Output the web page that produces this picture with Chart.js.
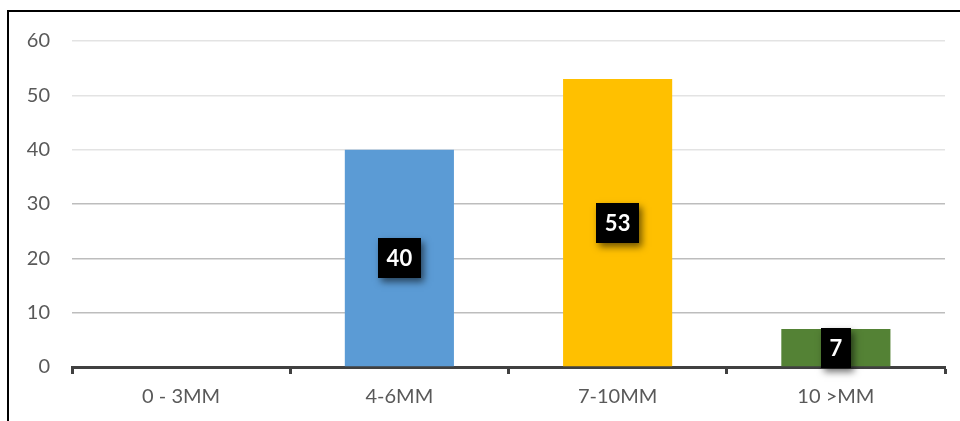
<!DOCTYPE html>
<html>
<head>
<meta charset="utf-8">
<script src="https://cdn.jsdelivr.net/npm/chart.js@4"></script>
<style>
  html, body { margin: 0; padding: 0; background: #ffffff; }
  #wrap { width: 960px; height: 421px; position: relative; }
</style>
</head>
<body>
<div id="wrap"><canvas id="c" width="960" height="421"></canvas></div>
<script>
// Size classes and counts per class
const categories = ['0 - 3MM', '4-6MM', '7-10MM', '10 >MM'];
const counts = [0, 40, 53, 7];
const barColors = ['#5b9bd5', '#5b9bd5', '#ffc000', '#548235'];
const yTicks = [0, 10, 20, 30, 40, 50, 60];

const FONT = 'Lato, "Open Sans", sans-serif';

// Thin black frame along the top and left edges of the canvas
const framePlugin = {
  id: 'frame',
  beforeDraw(chart) {
    const ctx = chart.ctx;
    ctx.save();
    ctx.fillStyle = '#ffffff';
    ctx.fillRect(0, 0, chart.width, chart.height);
    ctx.strokeStyle = '#000000';
    ctx.lineWidth = 2;
    ctx.beginPath();
    ctx.moveTo(8, chart.height);
    ctx.lineTo(8, 11);
    ctx.lineTo(chart.width, 11);
    ctx.stroke();
    ctx.restore();
  }
};

// Black value boxes with white bold numbers, centred inside each bar
const valueBoxPlugin = {
  id: 'valueBoxes',
  afterDatasetsDraw(chart) {
    const ctx = chart.ctx;
    const meta = chart.getDatasetMeta(0);
    const values = chart.data.datasets[0].data;
    ctx.save();
    ctx.font = 'bold 22px ' + FONT;
    ctx.textAlign = 'center';
    ctx.textBaseline = 'middle';
    meta.data.forEach((bar, i) => {
      const v = values[i];
      if (!v) return;
      const text = String(v);
      const cx = bar.x;
      const cy = (bar.y + bar.base) / 2;
      const w = ctx.measureText(text).width + 17;
      const h = 40;
      ctx.save();
      ctx.shadowColor = 'rgba(0,0,0,0.55)';
      ctx.shadowBlur = 7;
      ctx.shadowOffsetX = 3;
      ctx.shadowOffsetY = 4;
      ctx.fillStyle = '#000000';
      ctx.fillRect(Math.round(cx - w / 2), Math.round(cy - h / 2), Math.round(w), h);
      ctx.restore();
      ctx.fillStyle = '#ffffff';
      ctx.fillText(text, cx, cy + 1);
    });
    ctx.restore();
  }
};

new Chart(document.getElementById('c'), {
  type: 'bar',
  data: {
    labels: categories,
    datasets: [{
      data: counts,
      backgroundColor: barColors,
      borderWidth: 0,
      categoryPercentage: 1,
      barPercentage: 0.5
    }]
  },
  options: {
    responsive: false,
    animation: false,
    layout: { padding: { left: 0, right: 15, top: 41, bottom: 0 } },
    plugins: { legend: { display: false }, tooltip: { enabled: false } },
    scales: {
      x: {
        grid: {
          offset: true,
          drawOnChartArea: false,
          drawTicks: true,
          tickLength: 7,
          tickWidth: 3,
          tickColor: '#404040'
        },
        border: { display: true, color: '#404040', width: 3 },
        ticks: { color: '#595959', font: { family: FONT, size: 20 }, padding: 11 },
        afterFit(scale) { scale.height = 54; }
      },
      y: {
        min: 0,
        max: 60,
        afterBuildTicks(scale) { scale.ticks = yTicks.map(v => ({ value: v })); },
        grid: {
          drawTicks: false,
          color(ctx) { return ctx.tick && ctx.tick.value >= 40 ? '#e3e3e3' : '#bdbdbd'; },
          lineWidth: 1.5
        },
        border: { display: false },
        ticks: { color: '#595959', font: { family: FONT, size: 20 }, padding: 22 },
        afterFit(scale) { scale.width = 72; }
      }
    }
  },
  plugins: [framePlugin, valueBoxPlugin]
});
</script>
</body>
</html>
